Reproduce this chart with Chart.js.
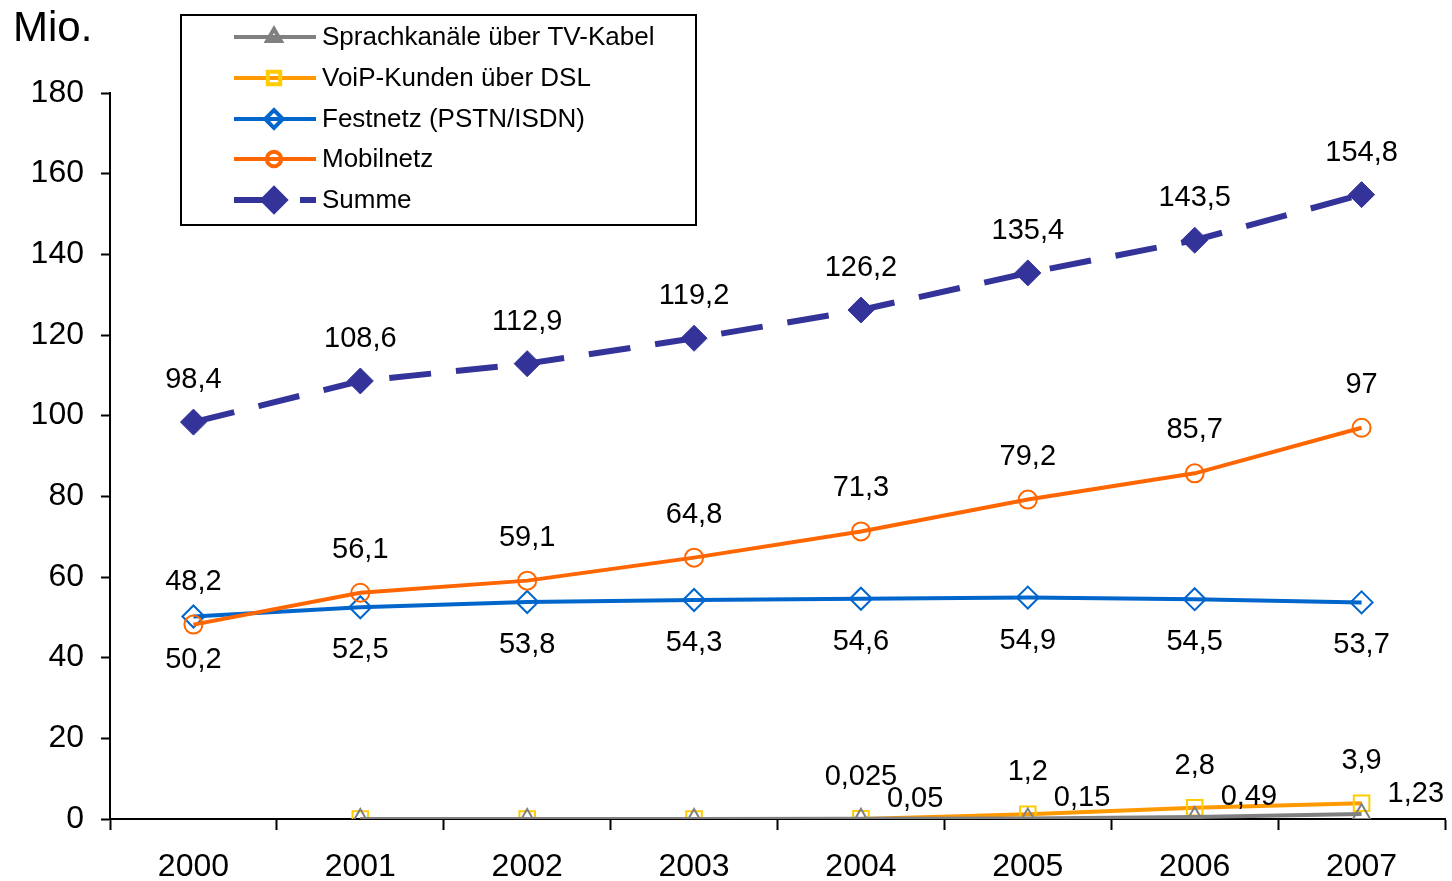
<!DOCTYPE html>
<html>
<head>
<meta charset="utf-8">
<script src="https://cdn.jsdelivr.net/npm/chart.js@4/dist/chart.umd.min.js"></script>
<style>
  html, body { margin: 0; padding: 0; background: #fff; }
  #wrap { width: 1452px; height: 881px; }
</style>
</head>
<body>
<div id="wrap"><canvas id="chart" width="1452" height="881"></canvas></div>
<script>
const years = ['2000', '2001', '2002', '2003', '2004', '2005', '2006', '2007'];
const tvKabel = [null, 0, 0, 0, 0.05, 0.15, 0.49, 1.23];
const voip = [null, 0, 0, 0, 0.025, 1.2, 2.8, 3.9];
const festnetz = [50.2, 52.5, 53.8, 54.3, 54.6, 54.9, 54.5, 53.7];
const mobil = [48.2, 56.1, 59.1, 64.8, 71.3, 79.2, 85.7, 97];
const summe = [98.4, 108.6, 112.9, 119.2, 126.2, 135.4, 143.5, 154.8];

const FONT = '"Liberation Sans", Arial, sans-serif';

// where each series puts its value labels
const labelPlace = {
    'Sprachkanäle über TV-Kabel': { dx: 26, dy: -20, align: 'left' },
    'VoiP-Kunden über DSL': { dx: 0, dy: -42, align: 'center' },
    'Festnetz (PSTN/ISDN)': { dx: 0, dy: 43, align: 'center' },
    'Mobilnetz': { dx: 0, dy: -43, align: 'center' },
    'Summe': { dx: 0, dy: -42, align: 'center' }
};

const valueLabels = {
    id: 'valueLabels',
    afterDatasetsDraw(chart) {
        const ctx = chart.ctx;
        ctx.save();
        ctx.font = '29px ' + FONT;
        ctx.fillStyle = '#000';
        ctx.textBaseline = 'middle';
        chart.data.datasets.forEach((ds, i) => {
            const place = labelPlace[ds.label];
            chart.getDatasetMeta(i).data.forEach((pt, j) => {
                const v = ds.data[j];
                if (v === null || v === 0) return;
                ctx.textAlign = place.align;
                ctx.fillText(String(v).replace('.', ','), pt.x + place.dx, pt.y + place.dy);
            });
        });
        ctx.restore();
    }
};

const boxLegend = {
    id: 'boxLegend',
    afterDraw(chart) {
        const ctx = chart.ctx;
        ctx.save();
        // unit label
        ctx.font = '42px ' + FONT;
        ctx.fillStyle = '#000';
        ctx.textAlign = 'left';
        ctx.textBaseline = 'middle';
        ctx.fillText('Mio.', 13, 29);

        ctx.fillStyle = '#fff';
        ctx.fillRect(181, 15, 515, 210);
        ctx.strokeStyle = '#000';
        ctx.lineWidth = 2;
        ctx.strokeRect(181, 15, 515, 210);

        const rowY = [37, 78, 119, 159, 200];
        chart.data.datasets.forEach((ds, i) => {
            const y = rowY[i];
            ctx.strokeStyle = ds.borderColor;
            ctx.lineWidth = ds.borderWidth;
            ctx.beginPath();
            if (ds.borderDash) {
                ctx.moveTo(234, y); ctx.lineTo(270, y);
                ctx.moveTo(300, y); ctx.lineTo(316, y);
            } else {
                ctx.moveTo(234, y); ctx.lineTo(316, y);
            }
            ctx.stroke();
            ctx.strokeStyle = ds.pointBorderColor;
            ctx.fillStyle = ds.pointBackgroundColor;
            Chart.helpers.drawPoint(ctx, {
                pointStyle: ds.pointStyle,
                radius: ds.pointRadius * 0.8,
                borderWidth: ds.pointBorderWidth
            }, 274, y);
            ctx.fillStyle = '#000';
            ctx.font = '26px ' + FONT;
            ctx.textAlign = 'left';
            ctx.fillText(ds.label, 322, y + 1);
        });
        ctx.restore();
    }
};

new Chart(document.getElementById('chart'), {
    type: 'line',
    data: {
        labels: years,
        datasets: [
            {
                label: 'Sprachkanäle über TV-Kabel',
                data: tvKabel,
                borderColor: '#808080',
                borderWidth: 4,
                pointStyle: 'triangle',
                pointRadius: 10,
                pointBorderWidth: 2,
                pointBorderColor: '#808080',
                pointBackgroundColor: 'rgba(0,0,0,0)',
                order: 1
            },
            {
                label: 'VoiP-Kunden über DSL',
                data: voip,
                borderColor: '#FF9900',
                borderWidth: 4,
                pointStyle: 'rect',
                pointRadius: 11,
                pointBorderWidth: 2,
                pointBorderColor: '#FFCC00',
                pointBackgroundColor: 'rgba(0,0,0,0)',
                order: 2
            },
            {
                label: 'Festnetz (PSTN/ISDN)',
                data: festnetz,
                borderColor: '#0066CC',
                borderWidth: 4,
                pointStyle: 'rectRot',
                pointRadius: 11,
                pointBorderWidth: 2,
                pointBorderColor: '#0066CC',
                pointBackgroundColor: 'rgba(0,0,0,0)',
                order: 4
            },
            {
                label: 'Mobilnetz',
                data: mobil,
                borderColor: '#FF6600',
                borderWidth: 4,
                pointStyle: 'circle',
                pointRadius: 9,
                pointBorderWidth: 2,
                pointBorderColor: '#FF6600',
                pointBackgroundColor: 'rgba(0,0,0,0)',
                order: 3
            },
            {
                label: 'Summe',
                data: summe,
                borderColor: '#333399',
                borderWidth: 6,
                borderDash: [42, 25],
                pointStyle: 'rectRot',
                pointRadius: 13,
                pointBorderWidth: 1,
                pointBorderColor: '#333399',
                pointBackgroundColor: '#333399',
                order: 0
            }
        ]
    },
    options: {
        responsive: false,
        animation: false,
        layout: { autoPadding: false, padding: { top: 93, right: 7, left: 0, bottom: 0 } },
        plugins: {
            legend: { display: false },
            tooltip: { enabled: false }
        },
        scales: {
            x: {
                offset: true,
                grid: {
                    offset: true,
                    drawOnChartArea: false,
                    tickLength: 11,
                    tickWidth: 2,
                    tickColor: '#000'
                },
                border: { color: '#000', width: 2 },
                ticks: {
                    color: '#000',
                    font: { family: FONT, size: 32 },
                    padding: 18,
                    maxRotation: 0
                },
                afterFit(scale) { scale.height = 62; }
            },
            y: {
                min: 0,
                max: 180,
                grid: {
                    drawOnChartArea: false,
                    tickLength: 9,
                    tickWidth: 2,
                    tickColor: '#000'
                },
                border: { color: '#000', width: 2 },
                ticks: {
                    stepSize: 20,
                    color: '#000',
                    font: { family: FONT, size: 32 },
                    padding: 17
                },
                afterFit(scale) { scale.width = 110; }
            }
        }
    },
    plugins: [valueLabels, boxLegend]
});
</script>
</body>
</html>
